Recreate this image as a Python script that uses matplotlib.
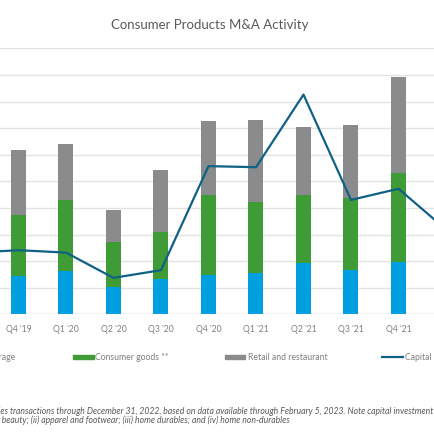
import numpy as np
import matplotlib
matplotlib.use("Agg")
import matplotlib.pyplot as plt
from matplotlib.patches import Rectangle
from matplotlib.lines import Line2D

plt.rcParams['font.family'] = ['Lato', 'DejaVu Sans']

# quarters, incl. the ones just outside the visible frame
quarters = ["Q3 '19", "Q4 '19", "Q1 '20", "Q2 '20", "Q3 '20", "Q4 '20",
            "Q1 '21", "Q2 '21", "Q3 '21", "Q4 '21", "Q1 '22"]

# values in gridline units (axis scale is cropped out of the picture)
food_bev = [np.nan, 1.45, 1.62, 1.04, 1.31, 1.49, 1.56, 1.92, 1.65, 1.95, np.nan]
consumer_goods = [np.nan, 2.28, 2.68, 1.67, 1.77, 2.98, 2.66, 2.55, 2.71, 3.37, np.nan]
retail = [np.nan, 2.43, 2.12, 1.21, 2.34, 2.79, 3.10, 2.58, 2.74, 3.60, np.nan]
capital_inv = [2.31, 2.41, 2.32, 1.37, 1.66, 5.57, 5.53, 8.26, 4.30, 4.72, 3.19]

C_BLUE = '#009fdf'
C_GREEN = '#3e9b35'
C_GRAY = '#898b8d'
C_LINE = '#0f6185'

W = H = 435.0


def fx(px):
    return px / W


def fy(py):
    return 1 - py / H


fig = plt.figure(figsize=(4.35, 4.35), dpi=100)

# axes spans the full width; chart is cropped on both sides
ax = fig.add_axes([0, fy(315.3), 1, fy(49.3) - fy(315.3)])
x = np.arange(len(quarters))
bw = 15 / 47.5

fb = np.array(food_bev)
cg = np.array(consumer_goods)
rt = np.array(retail)
ax.bar(x, fb, bw, color=C_BLUE, zorder=2)
ax.bar(x, cg, bw, bottom=fb, color=C_GREEN, zorder=2)
ax.bar(x, rt, bw, bottom=fb + cg, color=C_GRAY, zorder=2)
ax.plot(x, capital_inv, color=C_LINE, lw=1.6, zorder=3)

ax.set_yticks(np.arange(0, 11, 1))
ax.set_yticklabels([])
ax.tick_params(axis='y', length=0)
ax.grid(axis='y', color='#e3e3e3', lw=1, zorder=0)
ax.set_xticks(x)
ax.set_xticklabels(quarters, fontsize=6.2, color='#7f7f7f')
ax.tick_params(axis='x', length=0, pad=7)
ax.set_xlim(1 - 18.5 / 47.5, 1 + (W - 18.5) / 47.5)
ax.set_ylim(0, 10)
for s in ax.spines.values():
    s.set_visible(False)
ax.axhline(0, color='#d9d9d9', lw=1, zorder=1)

fig.text(fx(210), fy(25), 'Consumer Products M&A Activity', ha='center', va='center',
         fontsize=9.5, color='#595959')

# legend, drawn by hand so the cut-off entries land where they do
leg_y = 357.5
entries = [
    (C_BLUE, 'patch', None, 15.7, 'Food and beverage'),
    (C_GREEN, 'patch', 73.3, 95, 'Consumer goods **'),
    (C_GRAY, 'patch', 225, 248, 'Retail and restaurant'),
    (C_LINE, 'line', 381.7, 405, 'Capital investment'),
]
for color, kind, px0, tx, label in entries:
    if px0 is None:
        fig.text(fx(tx), fy(leg_y), label, ha='right', va='center',
                 fontsize=6.2, color='#7f7f7f')
        continue
    if kind == 'patch':
        fig.patches.append(Rectangle((fx(px0), fy(leg_y + 2)), fx(20.5), 4 / H,
                                     transform=fig.transFigure, color=color))
    else:
        fig.lines.append(Line2D([fx(px0), fx(px0 + 21.5)], [fy(leg_y), fy(leg_y)],
                                transform=fig.transFigure, color=color, lw=1.6))
    fig.text(fx(tx), fy(leg_y), label, ha='left', va='center',
             fontsize=6.2, color='#7f7f7f')

note1 = ('* Includes transactions through December 31, 2022, based on data available '
         'through February 5, 2023. Note capital investment')
note2 = ('** Consumer goods includes (i) health and beauty; (ii) apparel and footwear; '
         '(iii) home durables; and (iv) home non-durables')
fig.text(fx(433), fy(411.3), note1, ha='right', va='center', fontsize=6.2,
         style='italic', color='#595959')
fig.text(fx(290), fy(420), note2, ha='right', va='center', fontsize=6.2,
         style='italic', color='#595959')

fig.savefig('out.png', dpi=100)
